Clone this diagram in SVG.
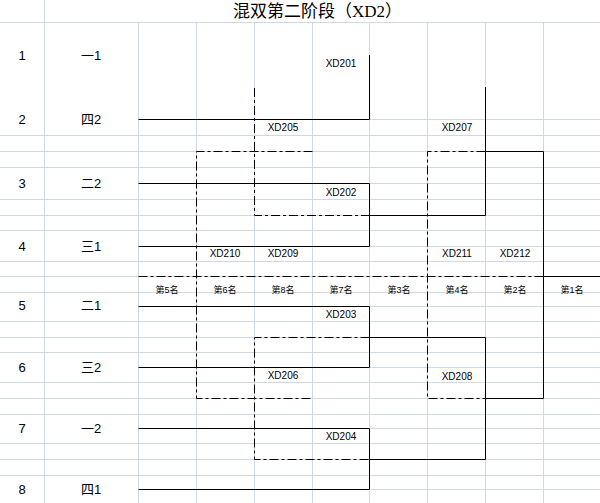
<svg xmlns="http://www.w3.org/2000/svg" width="600" height="503" viewBox="0 0 600 503">
<style>
.grid{stroke:#d0d7e5;stroke-width:1;fill:none}
.solid{stroke:#000;stroke-width:1;fill:none}
.dash{stroke:#000;stroke-width:1;fill:none;stroke-dasharray:9 3 3 3}
.title{font-family:"Liberation Serif","Noto Sans CJK SC",serif;font-size:17px;fill:#000;text-anchor:middle}
.num{font-family:"Liberation Sans","Noto Sans CJK SC",sans-serif;font-size:13px;fill:#000;text-anchor:middle}
.seed{font-family:"Liberation Sans","Noto Sans CJK SC",sans-serif;font-size:13px;fill:#000;text-anchor:middle}
.match{font-family:"Liberation Sans",sans-serif;font-size:10px;fill:#000;text-anchor:middle}
.place{font-family:"Liberation Sans","Noto Sans CJK SC",sans-serif;font-size:9px;fill:#000;text-anchor:middle}
</style>
<rect x="0" y="0" width="600" height="503" fill="#fff"/>
<g id="grid" class="grid">
<path d="M44.5,0V503M138.5,22.5V503M196.5,22.5V503M254.5,22.5V503M312.5,22.5V503M369.5,22.5V503M427.5,22.5V503M485.5,22.5V503M543.5,22.5V503"/>
<path d="M0,22.5H600M0,135.5H600M0,151.5H600M0,167.5H600M0,199.5H600M0,215.5H600M0,230.5H600M0,261.5H600M0,276.5H600M0,292.5H600M0,321.5H600M0,337.5H600M0,352.5H600M0,382.5H600M0,398.5H600M0,414.5H600M0,443.5H600M0,459.5H600M0,475.5H600"/>
<path d="M138.5,119.5H600M138.5,183.5H600M138.5,246.5H600M138.5,306.5H600M138.5,367.5H600M138.5,428.5H600M138.5,489.5H600"/>
</g>
<g id="title"><text class="title" x="317.5" y="16.5">混双第二阶段（XD2）</text></g>
<g id="entry-1"><text class="num" x="22" y="59.5">1</text><text class="seed" x="91" y="59.5">一1</text></g>
<g id="entry-2"><text class="num" x="22" y="124">2</text><text class="seed" x="91" y="124">四2</text></g>
<g id="entry-3"><text class="num" x="22" y="188.3">3</text><text class="seed" x="91" y="188.3">二2</text></g>
<g id="entry-4"><text class="num" x="22" y="251">4</text><text class="seed" x="91" y="251">三1</text></g>
<g id="entry-5"><text class="num" x="22" y="310">5</text><text class="seed" x="91" y="310">二1</text></g>
<g id="entry-6"><text class="num" x="22" y="372.3">6</text><text class="seed" x="91" y="372.3">三2</text></g>
<g id="entry-7"><text class="num" x="22" y="433.3">7</text><text class="seed" x="91" y="433.3">一2</text></g>
<g id="entry-8"><text class="num" x="22" y="494.3">8</text><text class="seed" x="91" y="494.3">四1</text></g>
<g id="connectors">
<path class="solid" d="M369.5,55V119.5H138.5"/>
<path class="solid" d="M138.5,183.5H369.5V246.5H138.5"/>
<path class="solid" d="M369.5,215.5H485.5V87"/>
<path class="solid" d="M485.5,151.5H543.5V398.5H485.5"/>
<path class="solid" d="M543.5,276.5H600"/>
<path class="solid" d="M138.5,306.5H369.5V367.5H138.5"/>
<path class="solid" d="M369.5,337.5H485.5V459.5H369.5"/>
<path class="solid" d="M138.5,428.5H369.5V489.5H138.5"/>
<path class="dash" d="M254.5,88V215.5H369.5"/>
<path class="dash" d="M312.5,151.5H196.5V398.5H312.5"/>
<path class="dash" d="M369.5,337.5H254.5V459.5H369.5"/>
<path class="dash" d="M138.5,276.5H543.5"/>
<path class="dash" d="M485.5,151.5H427.5V398.5H485.5"/>
</g>
<g id="XD201"><text class="match" x="341" y="67">XD201</text></g>
<g id="XD202"><text class="match" x="341" y="195.5">XD202</text></g>
<g id="XD203"><text class="match" x="341" y="318">XD203</text></g>
<g id="XD204"><text class="match" x="341" y="440">XD204</text></g>
<g id="XD205"><text class="match" x="283" y="131">XD205</text></g>
<g id="XD206"><text class="match" x="283" y="379">XD206</text></g>
<g id="XD207"><text class="match" x="457" y="131">XD207</text></g>
<g id="XD208"><text class="match" x="457" y="379.5">XD208</text></g>
<g id="XD209"><text class="match" x="283" y="257">XD209</text></g>
<g id="XD210"><text class="match" x="225" y="257">XD210</text></g>
<g id="XD211"><text class="match" x="457" y="257">XD211</text></g>
<g id="XD212"><text class="match" x="515" y="257">XD212</text></g>
<g id="places">
<text class="place" x="167" y="292.5">第5名</text>
<text class="place" x="225" y="292.5">第6名</text>
<text class="place" x="283" y="292.5">第8名</text>
<text class="place" x="341" y="292.5">第7名</text>
<text class="place" x="399" y="292.5">第3名</text>
<text class="place" x="457" y="292.5">第4名</text>
<text class="place" x="515" y="292.5">第2名</text>
<text class="place" x="572" y="292.5">第1名</text>
</g>
</svg>
